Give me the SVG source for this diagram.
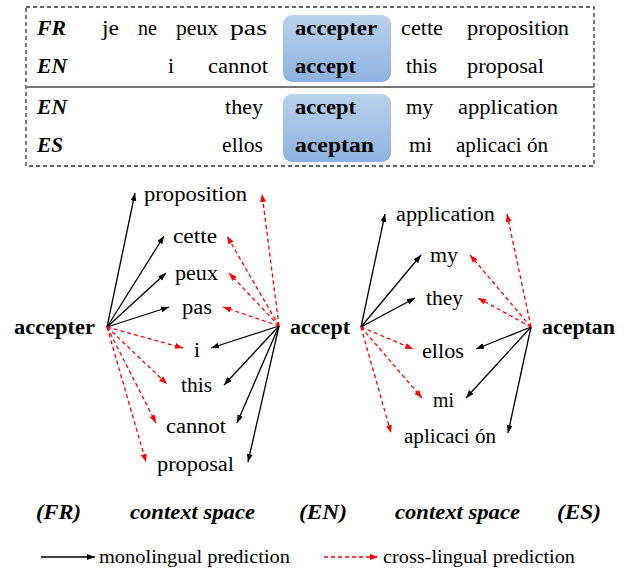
<svg xmlns="http://www.w3.org/2000/svg" width="635" height="572" viewBox="0 0 635 572">
  <defs>
    <linearGradient id="hl" x1="0" y1="0" x2="0" y2="1">
      <stop offset="0" stop-color="#bad2ec"/>
      <stop offset="1" stop-color="#8cb1e0"/>
    </linearGradient>
    <marker id="ahBlack" markerUnits="userSpaceOnUse" markerWidth="9" markerHeight="7" refX="8" refY="3" orient="auto">
      <path d="M0,0 L8,3 L0,6 z" fill="#000"/>
    </marker>
    <marker id="ahRed" markerUnits="userSpaceOnUse" markerWidth="9" markerHeight="7" refX="8" refY="3" orient="auto">
      <path d="M0,0 L8,3 L0,6 z" fill="#ff0000"/>
    </marker>
  </defs>

  <!-- sentence pairs table -->
  <g id="table">
    <rect x="26" y="7" width="568" height="159" fill="none" stroke="#333" stroke-width="1.3" stroke-dasharray="4 3"/>
    <line x1="26" y1="87" x2="594" y2="87" stroke="#777" stroke-width="2"/>
    <rect x="283" y="15" width="108" height="67" rx="9" fill="url(#hl)"/>
    <rect x="283" y="94" width="108" height="68" rx="9" fill="url(#hl)"/>
    <g font-family="Liberation Serif, serif" font-size="20" fill="#000" lengthAdjust="spacingAndGlyphs">
      <g font-weight="bold" font-style="italic">
        <text x="37" y="35" textLength="29" lengthAdjust="spacingAndGlyphs">FR</text>
        <text x="37" y="73" textLength="30" lengthAdjust="spacingAndGlyphs">EN</text>
        <text x="37" y="114" textLength="30" lengthAdjust="spacingAndGlyphs">EN</text>
        <text x="37" y="152" textLength="26" lengthAdjust="spacingAndGlyphs">ES</text>
      </g>
      <g font-weight="bold">
        <text x="295" y="35" textLength="82" lengthAdjust="spacingAndGlyphs">accepter</text>
        <text x="295" y="73" textLength="61" lengthAdjust="spacingAndGlyphs">accept</text>
        <text x="295" y="114" textLength="61" lengthAdjust="spacingAndGlyphs">accept</text>
        <text x="295" y="152" textLength="79" lengthAdjust="spacingAndGlyphs">aceptan</text>
      </g>
      <text x="102" y="35" textLength="17" lengthAdjust="spacingAndGlyphs">je</text>
      <text x="138" y="35" textLength="19" lengthAdjust="spacingAndGlyphs">ne</text>
      <text x="176" y="35" textLength="42" lengthAdjust="spacingAndGlyphs">peux</text>
      <text x="230" y="35" textLength="37" lengthAdjust="spacingAndGlyphs">pas</text>
      <text x="401" y="35" textLength="42" lengthAdjust="spacingAndGlyphs">cette</text>
      <text x="467" y="35" textLength="102" lengthAdjust="spacingAndGlyphs">proposition</text>
      <text x="168" y="73" textLength="6" lengthAdjust="spacingAndGlyphs">i</text>
      <text x="208" y="73" textLength="60" lengthAdjust="spacingAndGlyphs">cannot</text>
      <text x="406" y="73" textLength="31" lengthAdjust="spacingAndGlyphs">this</text>
      <text x="467" y="73" textLength="77" lengthAdjust="spacingAndGlyphs">proposal</text>
      <text x="225" y="114" textLength="38" lengthAdjust="spacingAndGlyphs">they</text>
      <text x="406" y="114" textLength="27" lengthAdjust="spacingAndGlyphs">my</text>
      <text x="458" y="114" textLength="100" lengthAdjust="spacingAndGlyphs">application</text>
      <text x="222" y="152" textLength="41" lengthAdjust="spacingAndGlyphs">ellos</text>
      <text x="409" y="152" textLength="23" lengthAdjust="spacingAndGlyphs">mi</text>
      <text x="456" y="152" textLength="92" lengthAdjust="spacingAndGlyphs">aplicaci ón</text>
    </g>
  </g>

  <!-- prediction arrows -->
  <g id="connectors" stroke-width="1.3" fill="none">
    <g stroke="#000" marker-end="url(#ahBlack)">
      <line x1="107" y1="327" x2="135" y2="193"/>
      <line x1="107" y1="327" x2="164" y2="236"/>
      <line x1="107" y1="327" x2="166" y2="273"/>
      <line x1="107" y1="327" x2="169" y2="307"/>
      <line x1="279" y1="326" x2="211" y2="348"/>
      <line x1="279" y1="326" x2="224" y2="385"/>
      <line x1="279" y1="326" x2="237" y2="423"/>
      <line x1="279" y1="326" x2="248" y2="462"/>
      <line x1="361" y1="327" x2="385" y2="214"/>
      <line x1="361" y1="327" x2="421" y2="255"/>
      <line x1="361" y1="327" x2="415" y2="298"/>
      <line x1="531" y1="327" x2="476" y2="349"/>
      <line x1="531" y1="327" x2="466" y2="398"/>
      <line x1="531" y1="327" x2="508" y2="433"/>
    </g>
    <g stroke="#ff0000" stroke-dasharray="4 3" marker-end="url(#ahRed)">
      <line x1="107" y1="327" x2="183" y2="348"/>
      <line x1="107" y1="327" x2="167" y2="384"/>
      <line x1="107" y1="327" x2="156" y2="423"/>
      <line x1="107" y1="327" x2="146" y2="462"/>
      <line x1="279" y1="326" x2="262" y2="194"/>
      <line x1="279" y1="326" x2="227" y2="236"/>
      <line x1="279" y1="326" x2="229" y2="273"/>
      <line x1="279" y1="326" x2="223" y2="307"/>
      <line x1="361" y1="327" x2="413" y2="349"/>
      <line x1="361" y1="327" x2="422" y2="398"/>
      <line x1="361" y1="327" x2="391" y2="433"/>
      <line x1="531" y1="327" x2="507" y2="214"/>
      <line x1="531" y1="327" x2="470" y2="255"/>
      <line x1="531" y1="327" x2="478" y2="298"/>
    </g>
  </g>

  <g id="words" font-family="Liberation Serif, serif" font-size="20" fill="#000">
    <!-- anchor words -->
    <g id="node-accepter" font-weight="bold"><text x="14" y="334" textLength="81" lengthAdjust="spacingAndGlyphs">accepter</text></g>
    <g id="node-accept" font-weight="bold"><text x="290" y="334" textLength="60" lengthAdjust="spacingAndGlyphs">accept</text></g>
    <g id="node-aceptan" font-weight="bold"><text x="542" y="334" textLength="73" lengthAdjust="spacingAndGlyphs">aceptan</text></g>

    <!-- FR/EN context words -->
    <g id="node-proposition"><text x="144" y="201" textLength="103" lengthAdjust="spacingAndGlyphs">proposition</text></g>
    <g id="node-cette"><text x="173" y="243" textLength="44" lengthAdjust="spacingAndGlyphs">cette</text></g>
    <g id="node-peux"><text x="175" y="280" textLength="43" lengthAdjust="spacingAndGlyphs">peux</text></g>
    <g id="node-pas"><text x="182" y="314" textLength="30" lengthAdjust="spacingAndGlyphs">pas</text></g>
    <g id="node-i"><text x="194" y="357" textLength="6" lengthAdjust="spacingAndGlyphs">i</text></g>
    <g id="node-this"><text x="181" y="392" textLength="31" lengthAdjust="spacingAndGlyphs">this</text></g>
    <g id="node-cannot"><text x="166" y="433" textLength="60" lengthAdjust="spacingAndGlyphs">cannot</text></g>
    <g id="node-proposal"><text x="157" y="471" textLength="77" lengthAdjust="spacingAndGlyphs">proposal</text></g>

    <!-- EN/ES context words -->
    <g id="node-application"><text x="396" y="221" textLength="99" lengthAdjust="spacingAndGlyphs">application</text></g>
    <g id="node-my"><text x="430" y="262" textLength="28" lengthAdjust="spacingAndGlyphs">my</text></g>
    <g id="node-they"><text x="426" y="305" textLength="37" lengthAdjust="spacingAndGlyphs">they</text></g>
    <g id="node-ellos"><text x="422" y="358" textLength="42" lengthAdjust="spacingAndGlyphs">ellos</text></g>
    <g id="node-mi"><text x="433" y="407" textLength="21" lengthAdjust="spacingAndGlyphs">mi</text></g>
    <g id="node-aplicacion"><text x="404" y="443" textLength="92" lengthAdjust="spacingAndGlyphs">aplicaci ón</text></g>

    <!-- space captions -->
    <g id="captions" font-weight="bold" font-style="italic">
      <text x="36" y="519" textLength="45" lengthAdjust="spacingAndGlyphs">(FR)</text>
      <text x="130" y="519" textLength="125" lengthAdjust="spacingAndGlyphs">context space</text>
      <text x="299" y="519" textLength="48" lengthAdjust="spacingAndGlyphs">(EN)</text>
      <text x="395" y="519" textLength="125" lengthAdjust="spacingAndGlyphs">context space</text>
      <text x="557" y="519" textLength="44" lengthAdjust="spacingAndGlyphs">(ES)</text>
    </g>
  </g>

  <!-- legend -->
  <g id="legend">
    <line x1="41" y1="557" x2="95" y2="557" stroke="#000" stroke-width="1.3" marker-end="url(#ahBlack)"/>
    <line x1="324" y1="557" x2="378" y2="557" stroke="#ff0000" stroke-width="1.3" stroke-dasharray="4 3" marker-end="url(#ahRed)"/>
    <g font-family="Liberation Serif, serif" font-size="18" fill="#000">
      <text x="99" y="563" textLength="191" lengthAdjust="spacingAndGlyphs">monolingual prediction</text>
      <text x="383" y="563" textLength="192" lengthAdjust="spacingAndGlyphs">cross-lingual prediction</text>
    </g>
  </g>
</svg>
